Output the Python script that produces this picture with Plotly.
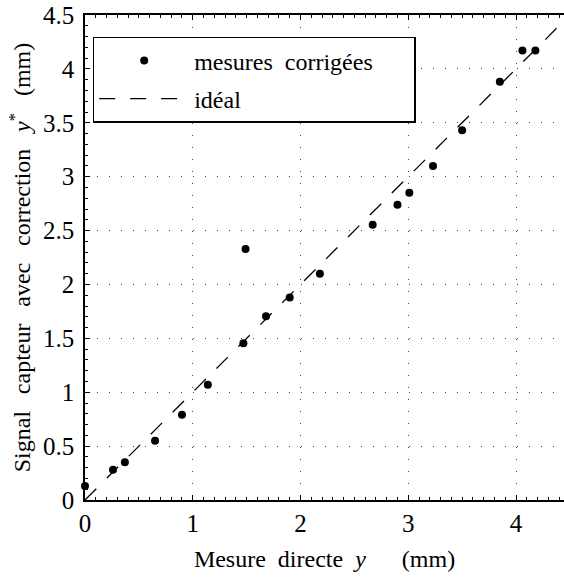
import plotly.graph_objects as go

# Data
x_mesure = [0.00, 0.26, 0.37, 0.65, 0.90, 1.14, 1.47, 1.49, 1.68, 1.90,
            2.18, 2.67, 2.90, 3.01, 3.23, 3.50, 3.85, 4.06, 4.18]
y_corrige = [0.13, 0.28, 0.35, 0.55, 0.79, 1.07, 1.455, 2.33, 1.705, 1.88,
             2.10, 2.555, 2.74, 2.85, 3.10, 3.43, 3.88, 4.17, 4.17]
x_ideal = [0.0, 4.5]
y_ideal = [0.0, 4.5]

x_ticks = [0, 1, 2, 3, 4]
y_ticks = [0, 0.5, 1, 1.5, 2, 2.5, 3, 3.5, 4, 4.5]
y_ticklabels = ["0", "0.5", "1", "1.5", "2", "2.5", "3", "3.5", "4", "4.5"]

FONT = "Liberation Serif"
FS = 24
FS_TICK = 25
EN = "\u2002"
EM = "\u2003"
SP = "\u2002\u2009"

fig = go.Figure()
fig.add_trace(go.Scatter(
    x=x_ideal, y=y_ideal, mode="lines", name="idéal",
    line=dict(color="black", width=1.3, dash="16px,15px"),
    legendrank=2, legendgroup="b",
))
fig.add_trace(go.Scatter(
    x=x_mesure, y=y_corrige, mode="markers", name="mesures" + EN + "corrigées" + EM + EN,
    marker=dict(color="black", size=8, symbol="circle"),
    cliponaxis=False, legendrank=1, legendgroup="a",
))

axis_common = dict(
    showline=True, linecolor="black", linewidth=1.5,
    ticks="inside", ticklen=5, tickwidth=1, tickcolor="black",
    showgrid=True, gridcolor="#444", gridwidth=1, griddash="1px,11px",
    zeroline=False,
    tickfont=dict(family=FONT, size=FS_TICK, color="black"),
)

fig.update_xaxes(
    **axis_common,
    range=[0, 4.4455], tickvals=x_ticks, ticktext=[str(v) for v in x_ticks],
    mirror="allticks",
    minor=dict(dtick=0.1, tick0=0, ticks="inside", ticklen=3, tickcolor="black", showgrid=False),
    title=dict(text="Mesure" + EN + "directe" + EN + "<i>y</i>" + EM + EN + "(mm)",
               font=dict(family=FONT, size=FS, color="black"), standoff=14),
)
fig.update_yaxes(
    **axis_common,
    range=[0, 4.5], tickvals=y_ticks, ticktext=y_ticklabels,
    mirror=False, ticklabelstandoff=4,
    minor=dict(dtick=0.1, tick0=0, ticks="inside", ticklen=3, tickcolor="black", showgrid=False),
    title=dict(text="Signal" + SP + "capteur" + SP + "avec" + SP + "correction" + SP + "<i>y</i><sup>*</sup>" + SP + "(mm)",
               font=dict(family=FONT, size=FS, color="black"), standoff=6),
)

fig.update_layout(
    width=564, height=579,
    margin=dict(l=85, r=0, t=15, b=79),
    plot_bgcolor="white", paper_bgcolor="white",
    font=dict(family=FONT, size=FS, color="black"),
    legend=dict(
        x=0.016, y=0.955, xanchor="left", yanchor="top",
        bgcolor="white", bordercolor="black", borderwidth=1.5,
        itemwidth=90, tracegroupgap=4,
        font=dict(family=FONT, size=FS, color="black"),
    ),
    showlegend=True,
)

fig.write_html("out.html")
